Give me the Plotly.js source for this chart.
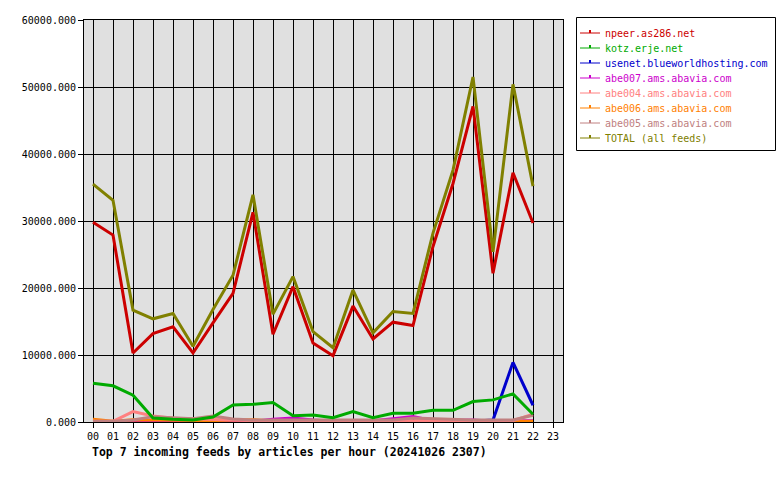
<!DOCTYPE html>
<html>
<head>
<meta charset="utf-8">
<script src="https://cdn.plot.ly/plotly-3.0.1.min.js"></script>
<style>html,body{margin:0;padding:0;background:#fff;}#chart{width:780px;height:480px;}</style>
</head>
<body>
<div id="chart"></div>
<script>
const hours = [0,1,2,3,4,5,6,7,8,9,10,11,12,13,14,15,16,17,18,19,20,21,22];
const hourLabels = ["00","01","02","03","04","05","06","07","08","09","10","11","12","13","14","15","16","17","18","19","20","21","22","23"];
const seriesNames = ["npeer.as286.net","kotz.erje.net","usenet.blueworldhosting.com","abe007.ams.abavia.com","abe004.ams.abavia.com","abe006.ams.abavia.com","abe005.ams.abavia.com","TOTAL (all feeds)"];
const seriesColors = ["#cc0000","#00aa00","#0000cc","#cc00cc","#ff8080","#ff8000","#c08080","#808000"];

const npeer  = [29800,27900,10300,13200,14200,10300,14800,19200,31300,13100,20200,11800,9900,17300,12400,14900,14400,26200,35600,47100,22200,37200,29700];
const kotz   = [5800,5400,4000,600,400,300,750,2550,2650,2900,950,1050,650,1550,650,1300,1300,1750,1750,3050,3300,4200,1150];
const usenet = [0,0,0,250,250,200,0,0,0,0,0,0,150,0,0,200,0,0,0,100,300,8900,2500];
const abe007 = [0,0,0,100,100,100,100,100,100,400,600,300,100,100,200,500,800,200,300,300,100,100,200];
const abe004 = [100,100,1550,900,550,450,300,300,200,200,200,200,200,200,200,200,300,200,200,200,200,200,1150];
const abe006 = [400,100,350,300,200,200,200,300,350,150,100,100,100,100,100,100,100,100,100,100,100,100,100];
const abe005 = [100,100,300,800,650,500,900,450,300,300,400,400,300,300,400,300,600,500,300,300,300,300,1000];
const total  = [35500,33100,16700,15400,16200,11300,16800,21900,33900,16100,21700,13500,11100,19700,13300,16500,16200,28200,37600,51500,25400,50400,35200];

const allSeries = [npeer,kotz,usenet,abe007,abe004,abe006,abe005,total];
const drawOrder = [2,3,5,4,6,1,0,7];

const traces = drawOrder.map(i => ({
  x: hours, y: allSeries[i], type: 'scatter', mode: 'lines',
  name: seriesNames[i], line: {color: seriesColors[i], width: 3},
  showlegend: false, hoverinfo: 'skip'
}));

// pixel helpers for legend placement (plot area 84..563 x, 20..422 y)
const PL = 84, PR = 563, PT = 20, PB = 422;
const px = v => (v - PL) / (PR - PL);
const py = v => (PB - v) / (PB - PT);

const shapes = [{
  type: 'rect', xref: 'paper', yref: 'paper',
  x0: px(576.5), x1: px(775.5), y0: py(150.5), y1: py(17.5),
  line: {color: '#000', width: 1}, fillcolor: '#fff'
}];
const annotations = [];
seriesNames.forEach((n, i) => {
  const yy = 33 + i * 15;
  shapes.push({type: 'line', xref: 'paper', yref: 'paper', x0: px(580), x1: px(600), y0: py(yy), y1: py(yy), line: {color: seriesColors[i], width: 1}});
  shapes.push({type: 'line', xref: 'paper', yref: 'paper', x0: px(590), x1: px(590), y0: py(yy), y1: py(yy - 3), line: {color: seriesColors[i], width: 2}});
  annotations.push({xref: 'paper', yref: 'paper', x: px(603), y: py(yy), xanchor: 'left', yanchor: 'middle', showarrow: false,
    text: n, font: {family: 'DejaVu Sans Mono, monospace', size: 10, color: seriesColors[i]}});
});
annotations.push({xref: 'paper', yref: 'paper', x: px(90), y: py(452), xanchor: 'left', yanchor: 'middle', showarrow: false,
  text: '<b>Top 7 incoming feeds by articles per hour (20241026 2307)</b>',
  font: {family: 'DejaVu Sans Mono, monospace', size: 11.5, color: '#000'}});

const layout = {
  width: 780, height: 480,
  margin: {l: PL, r: 780 - PR, t: PT, b: 480 - PB, pad: 0},
  paper_bgcolor: '#ffffff', plot_bgcolor: '#e0e0e0',
  font: {family: 'DejaVu Sans Mono, monospace', size: 10, color: '#000'},
  xaxis: {
    range: [-0.45, 23.5], tickvals: hourLabels.map((_, i) => i), ticktext: hourLabels,
    showgrid: true, gridcolor: '#000', gridwidth: 1, zeroline: false,
    ticks: 'outside', ticklen: 5, tickcolor: '#000', tickwidth: 1,
    showline: true, linecolor: '#000', linewidth: 1, mirror: true,
    tickfont: {family: 'DejaVu Sans Mono, monospace', size: 10, color: '#000'}
  },
  yaxis: {
    range: [0, 60000], dtick: 10000, tick0: 0, tickformat: '.3f',
    showgrid: true, gridcolor: '#000', gridwidth: 1, zeroline: false,
    ticks: 'outside', ticklen: 5, tickcolor: '#000', tickwidth: 1,
    showline: true, linecolor: '#000', linewidth: 1, mirror: true,
    tickfont: {family: 'DejaVu Sans Mono, monospace', size: 10, color: '#000'}
  },
  shapes: shapes, annotations: annotations, showlegend: false
};

Plotly.newPlot('chart', traces, layout, {displayModeBar: false, staticPlot: true});
</script>
</body>
</html>
